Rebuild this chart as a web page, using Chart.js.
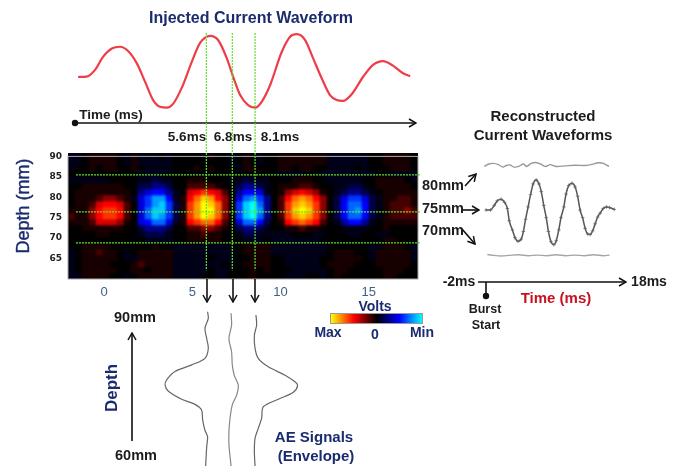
<!DOCTYPE html>
<html lang="en">
<head>
    <meta charset="UTF-8">
    <title>Injected Current Waveform</title>
    <script src="https://cdn.jsdelivr.net/npm/chart.js"></script>
    <style>
        html, body { margin: 0; background: #fff; }
        #stage { position: relative; width: 677px; height: 466px; overflow: hidden; filter: blur(0.4px); font-family: "Liberation Sans", Arial, sans-serif; font-weight: bold; }
        #stage canvas, #stage svg { position: absolute; }
        #heatBox { position: absolute; left: 68px; top: 153px; width: 350px; height: 126px; overflow: hidden; background: #000; }
        #heat { left: 0; top: 0; filter: blur(1px); }
        .t { position: absolute; white-space: nowrap; transform: translate(-50%, -50%); }
        .navy { color: #1b2c6e; }
        .dark { color: #1c1c1c; }
        #colorbar { position: absolute; left: 330px; top: 313px; width: 91px; height: 9px; border: 1px solid #999;
            background: linear-gradient(to right, #ff0, #f00 25%, #000 50%, #00f 75%, #0ff); }
    </style>
</head>
<body>
<div id="stage">
    <canvas id="injected" width="350" height="90" style="left:70px;top:25px"></canvas>
    <div id="heatBox"><canvas id="heat" width="350" height="126"></canvas></div>
    <canvas id="heatAxes" width="440" height="170" style="left:0;top:145px"></canvas>
    <canvas id="recon" width="160" height="120" style="left:470px;top:150px"></canvas>
    <canvas id="envelope" width="150" height="161" style="left:155px;top:305px"></canvas>

    <svg width="677" height="466" style="left:0;top:0">
        <defs>
            <marker id="head" markerWidth="9" markerHeight="10" refX="8" refY="5" orient="auto" markerUnits="userSpaceOnUse">
                <path d="M1 1 L8 5 L1 9" fill="none" stroke="#111" stroke-width="1.5"/>
            </marker>
        </defs>
        <g stroke="#111" stroke-width="1.6" fill="none">
            <line x1="75" y1="123" x2="416" y2="123" marker-end="url(#head)"/>
            <line x1="207" y1="279" x2="207" y2="302" marker-end="url(#head)"/>
            <line x1="233" y1="279" x2="233" y2="302" marker-end="url(#head)"/>
            <line x1="255" y1="279" x2="255" y2="302" marker-end="url(#head)"/>
            <line x1="465" y1="186" x2="476" y2="174" marker-end="url(#head)"/>
            <line x1="463" y1="210" x2="479" y2="210" marker-end="url(#head)"/>
            <line x1="462" y1="229" x2="475" y2="244" marker-end="url(#head)"/>
            <line x1="478" y1="282" x2="626" y2="282" marker-end="url(#head)"/>
            <line x1="486" y1="282" x2="486" y2="296"/>
            <line x1="132" y1="441" x2="132" y2="333" marker-end="url(#head)"/>
        </g>
        <circle cx="75" cy="123" r="3.2" fill="#111"/>
        <circle cx="486" cy="296" r="3.2" fill="#111"/>
    </svg>

    <div id="colorbar"></div>

    <span class="t navy" style="left:251px;top:18px;font-size:16px">Injected Current Waveform</span>
    <span class="t dark" style="left:111px;top:114px;font-size:13.5px">Time (ms)</span>
    <span class="t dark" style="left:187px;top:136px;font-size:13.5px">5.6ms</span>
    <span class="t dark" style="left:233px;top:136px;font-size:13.5px">6.8ms</span>
    <span class="t dark" style="left:280px;top:136px;font-size:13.5px">8.1ms</span>
    <span class="t navy" style="left:23px;top:206px;font-size:18px;font-weight:normal;-webkit-text-stroke:0.4px #1b2c6e;transform:translate(-50%,-50%) rotate(-90deg)">Depth (mm)</span>

    <span class="t dark" style="left:543px;top:115px;font-size:15px">Reconstructed</span>
    <span class="t dark" style="left:543px;top:134px;font-size:15px">Current Waveforms</span>
    <span class="t dark" style="left:443px;top:185px;font-size:14.5px">80mm</span>
    <span class="t dark" style="left:443px;top:208px;font-size:14.5px">75mm</span>
    <span class="t dark" style="left:443px;top:230px;font-size:14.5px">70mm</span>
    <span class="t dark" style="left:459px;top:281px;font-size:14px">-2ms</span>
    <span class="t dark" style="left:649px;top:281px;font-size:14px">18ms</span>
    <span class="t" style="left:556px;top:297px;font-size:15px;color:#c5121f">Time (ms)</span>
    <span class="t dark" style="left:485px;top:309px;font-size:12.5px">Burst</span>
    <span class="t dark" style="left:486px;top:325px;font-size:12.5px">Start</span>

    <span class="t dark" style="left:135px;top:317px;font-size:14.5px">90mm</span>
    <span class="t dark" style="left:136px;top:455px;font-size:14.5px">60mm</span>
    <span class="t navy" style="left:112px;top:388px;font-size:17px;transform:translate(-50%,-50%) rotate(-90deg)">Depth</span>
    <span class="t navy" style="left:314px;top:436px;font-size:15px">AE Signals</span>
    <span class="t navy" style="left:316px;top:455px;font-size:15px">(Envelope)</span>

    <span class="t navy" style="left:375px;top:306px;font-size:14px">Volts</span>
    <span class="t navy" style="left:328px;top:332px;font-size:14px">Max</span>
    <span class="t navy" style="left:375px;top:334px;font-size:14px">0</span>
    <span class="t navy" style="left:422px;top:332px;font-size:14px">Min</span>

    <canvas id="guides" width="677" height="466" style="left:0;top:0"></canvas>
</div>

<script>
    // injected current, time in ms, amplitude normalised to the biggest peak
    const injectedTimes = [-1.47,-0.98,-0.51,-0.06,0.44,0.91,1.36,1.85,2.32,2.78,3.17,3.55,3.91,4.40,4.97,5.44,6.01,6.46,6.95,7.31,7.71,8.16,8.56,8.93,9.41,10.07,10.54,10.92,11.39,11.84,12.33,12.80,13.18,13.54,14.03,14.67,15.24,15.81,16.37,16.94,17.34];
    const injectedAmps = [0,0.01,0.17,0.48,0.68,0.72,0.62,0.33,-0.11,-0.55,-0.71,-0.73,-0.64,-0.26,0.36,0.81,0.98,0.88,0.45,0.01,-0.43,-0.67,-0.73,-0.59,-0.19,0.60,0.96,1.02,0.88,0.45,-0.03,-0.43,-0.55,-0.57,-0.41,0,0.29,0.38,0.27,0.09,0.02];

    // reconstructed waveforms at the three depths
    const recon75Times = [-1.46,-0.83,-0.30,0.15,0.69,1.18,1.58,1.85,2.30,2.66,3.10,3.55,3.87,4.18,4.54,4.89,5.25,5.70,6.10,6.42,6.77,7.13,7.44,7.80,8.21,8.56,8.92,9.23,9.64,9.95,10.35,10.80,11.25,11.61,11.96,12.32,12.68,13.04,13.40,13.75,14.11,14.47,14.83,15.27,15.72,16.17,16.84];
    const recon75Amps = [0,0,0.15,0.30,0.35,0.25,0.05,-0.35,-0.65,-0.90,-1.02,-0.95,-0.70,-0.30,0.10,0.50,0.85,0.98,0.85,0.60,0.15,-0.25,-0.70,-1.03,-1.13,-1.00,-0.65,-0.25,0.10,0.52,0.80,0.87,0.75,0.45,0,-0.25,-0.60,-0.78,-0.80,-0.68,-0.45,-0.23,-0.10,0.05,0.10,0.08,0.02];
    const recon80Times = [-1.73,-1.06,-0.39,0.29,0.96,1.40,1.94,2.52,3.19,3.87,4.31,4.98,5.65,6.33,7.00,7.67,8.56,9.90,11.25,12.59,13.49,14.60,15.27,16.08];
    const recon80Amps = [1.42,1.50,1.52,1.48,1.40,1.45,1.47,1.40,1.42,1.50,1.42,1.52,1.55,1.50,1.42,1.48,1.42,1.44,1.46,1.45,1.48,1.54,1.52,1.42];
    const recon70Times = [-1.28,-0.39,0.73,1.85,3.19,4.54,5.88,7.22,8.56,9.91,11.25,12.59,13.93,15.27,16.17];
    const recon70Amps = [-1.45,-1.48,-1.50,-1.48,-1.46,-1.49,-1.47,-1.49,-1.46,-1.49,-1.47,-1.49,-1.46,-1.49,-1.47];

    // AE envelopes: horizontal position (ms) against depth (mm)
    const envLeftX = [5.87,5.91,5.72,5.82,5.91,5.72,4.97,4.02,3.55,3.46,3.65,4.40,5.16,5.53,5.59,5.72,5.87,5.82,5.76];
    const envLeftDepth = [90.9,89.5,87.4,85.2,83.1,81.0,79.6,78.2,76.4,75.3,74.0,72.3,71.2,70.0,67.9,65.7,64.3,62.2,58.1];
    const envMidX = [7.20,7.23,7.08,7.23,7.27,7.38,7.61,7.52,7.27,7.14,7.08,7.08,7.20];
    const envMidDepth = [90.6,88.1,85.2,82.4,79.6,77.4,75.3,73.2,71.1,68.2,65.4,62.6,58.1];
    const envRightX = [8.61,8.65,8.52,8.56,8.74,9.31,10.26,10.82,10.97,10.73,9.88,9.03,8.93,8.74,8.56,8.52,8.56];
    const envRightDepth = [90.2,88.1,85.9,83.1,81.0,79.2,77.4,76.0,75.2,73.8,72.3,70.7,68.2,66.1,64.0,61.1,58.1];

    // green guide lines
    const guideTimes = [5.80, 7.27, 8.56];
    const guideDepths = [84.8, 76.0, 68.6];

    const timeTicks = [0, 5, 10, 15];
    const depthTicks = [90, 85, 80, 75, 70, 65];

    // acoustoelectric image, one row per depth from 90 mm down, -10 (min) to 10 (max)
    const heatValues = [
        [-1,-1,0,1,1,1,1,0,-1,1, -1,-1,-1,0,-1,0,0,0,0,0, 1,0,0,-1,0,1,0,-1,0,0, 1,1,1,1,1,1,1,-1,-1,-1, -1,-1,-1,0,0,1,1,1,1,0],
        [-1,-1,0,1,1,1,1,0,-1,1, -1,-1,-1,-1,-1,0,0,0,0,0, 0,0,0,-1,0,1,0,-1,0,0, 1,1,1,1,1,1,1,-1,-1,-1, -1,-1,-1,0,0,1,1,1,1,0],
        [-1,0,0,1,0,1,1,0,0,1, 0,-1,-1,-1,-1,0,0,0,1,0, 1,0,0,0,-1,1,1,0,0,0, 1,1,0,1,1,0,0,-1,-1,-1, -1,0,-1,0,0,0,1,1,1,0],
        [0,0,0,0,0,0,0,0,0,0, -1,-1,-1,-1,0,0,0,0,0,0, 0,0,0,0,0,0,0,0,0,0, -1,-1,-1,-1,0,0,-1,-1,-1,-1, -1,-1,-1,-1,0,0,-1,-1,-1,-1],
        [-1,-1,-1,-1,-1,-1,0,0,0,0, -1,-1,-2,-1,-1,0,0,1,1,1, 0,0,0,-1,-1,-2,-1,-1,-1,0, 0,0,1,1,1,0,0,-1,-1,-1, -1,-1,0,0,1,1,1,1,0,-1],
        [0,0,1,1,1,1,1,1,0,0, -2,-2,-3,-3,-2,0,0,2,2,2, 2,1,0,0,-2,-3,-3,-2,-1,0, 1,1,1,2,2,1,0,0,-1,-1, -2,-2,-1,0,1,1,1,1,1,0],
        [0,1,1,1,1,1,1,1,1,0, -3,-4,-5,-5,-3,-1,0,4,5,6, 5,4,2,0,-3,-5,-5,-4,-1,0, 1,3,4,5,4,3,1,0,-1,-2, -3,-3,-2,-1,0,1,1,1,1,1],
        [0,1,1,1,2,3,3,2,1,-1, -4,-6,-8,-8,-5,-1,1,5,7,9, 8,5,3,0,-4,-7,-8,-6,-3,0, 2,5,7,8,7,5,3,0,-2,-4, -6,-6,-4,-2,-1,1,1,2,2,1],
        [0,1,1,2,4,5,5,4,2,0, -4,-6,-8,-9,-6,-2,1,6,8,10, 9,7,3,0,-6,-9,-10,-7,-3,0, 2,6,8,9,8,6,3,0,-2,-5, -7,-7,-5,-2,-1,1,2,2,2,1],
        [1,1,1,3,5,6,6,5,2,0, -4,-7,-9,-9,-6,-2,1,6,8,10, 10,7,3,0,-6,-9,-10,-8,-3,0, 2,6,9,10,9,6,3,0,-2,-5, -7,-8,-5,-2,-1,1,2,2,3,2],
        [2,1,1,3,5,6,6,5,2,0, -4,-7,-9,-8,-6,-2,1,6,8,10, 9,7,3,0,-6,-9,-10,-7,-3,0, 2,6,8,9,8,6,3,0,-2,-5, -7,-7,-5,-2,-1,1,2,2,2,2],
        [1,1,1,2,4,4,4,3,1,0, -4,-5,-7,-7,-4,-1,1,5,6,7, 7,5,2,0,-4,-7,-7,-5,-2,0, 1,5,6,7,6,5,2,0,-1,-3, -5,-5,-3,-1,0,1,1,1,1,1],
        [0,0,1,1,1,1,1,1,0,0, -2,-3,-3,-3,-2,0,0,2,2,3, 3,2,1,0,-2,-3,-3,-2,-1,0, 0,1,1,2,1,1,0,0,0,-1, -1,-1,-1,0,0,1,0,0,0,0],
        [0,0,0,0,1,1,0,0,0,0, -1,-2,-2,-2,-1,0,0,1,1,2, 1,1,0,0,-1,-2,-2,-1,-1,-1, -1,-1,0,0,0,-1,-1,0,0,0, -1,-1,0,0,-1,-1,0,0,0,0],
        [0,0,0,0,0,0,0,0,0,0, 0,-1,-1,-1,-1,0,0,1,1,1, 1,1,0,0,0,-1,-1,-1,0,-1, -1,-1,-1,-1,-1,-1,0,0,0,0, 0,0,0,0,0,1,1,0,0,0],
        [0,0,1,1,1,1,0,0,0,0, 0,0,1,0,0,-1,-1,-1,-1,-1, -1,-1,-1,0,0,1,1,1,1,-1, -1,-1,-1,-1,-1,-1,-1,0,0,0, 0,0,0,-1,-1,1,1,1,0,-1],
        [-1,0,1,1,2,1,1,0,-1,0, 1,1,1,1,1,-1,-1,-1,-1,-1, -1,-1,-1,-1,0,1,1,1,1,-1, -1,-1,-1,-1,-1,-1,-1,0,1,1, 1,0,0,-1,1,1,1,1,1,-1],
        [-1,0,1,1,1,1,1,0,-1,-1, 1,1,1,1,1,-1,-1,-1,-1,-1, 0,-1,-1,-1,0,0,1,1,1,0, 0,-1,-1,-1,-1,-1,0,0,1,1, 1,1,0,-1,1,1,1,1,1,-1],
        [-1,0,1,1,1,1,0,0,0,1, 2,1,1,1,1,-1,-1,-1,-1,-1, -1,-1,0,-1,0,1,1,1,1,0, 0,-1,-1,-1,-1,-1,0,1,1,1, 1,0,0,0,1,1,1,1,1,0],
        [-1,0,1,1,1,1,1,0,0,1, 1,0,1,1,1,-1,-1,-1,-1,-1, 0,-1,-1,0,0,0,1,0,1,0, 0,0,-1,-1,-1,-1,-1,0,1,1, 0,0,0,0,0,1,1,1,0,0],
        [-1,-1,1,1,1,1,0,0,-1,0, 1,1,1,1,1,-1,-1,-1,-1,0, 0,-1,-1,0,0,0,1,0,0,0, 0,-1,-1,-1,0,0,-1,0,1,0, 0,0,0,0,0,1,1,0,0,0]
    ];

    // brightness of red / blue for image values 0 to 5, above that green is added
    const heatShades = [0, 24, 70, 140, 215, 255];

    Chart.defaults.animation = false;
    Chart.defaults.events = [];
    Chart.defaults.responsive = false;
    Chart.defaults.plugins.legend.display = false;
    Chart.defaults.plugins.tooltip.enabled = false;
    Chart.defaults.font.family = '"Liberation Sans", Arial, sans-serif';

    function xy(xs, ys) {
        return xs.map((x, i) => ({ x: x, y: ys[i] }));
    }

    function hiddenAxis(min, max) {
        return { type: 'linear', display: false, min: min, max: max };
    }

    // yellow - red - black - blue - cyan
    function heatColor(v) {
        const a = Math.abs(v);
        const main = heatShades[Math.min(a, 5)];
        const extra = Math.round(255 * Math.max(0, a - 5) / 5);
        return v >= 0 ? `rgb(${main},${extra},0)` : `rgb(0,${extra},${main})`;
    }

    new Chart(document.getElementById('injected'), {
        type: 'scatter',
        data: {
            datasets: [{
                data: xy(injectedTimes, injectedAmps),
                showLine: true,
                borderColor: '#ee3d48',
                borderWidth: 2.2,
                cubicInterpolationMode: 'monotone',
                pointRadius: 0
            }]
        },
        options: {
            scales: { x: hiddenAxis(-1.93, 17.9), y: hiddenAxis(-0.905, 1.238) }
        }
    });

    const rowHeight = 30 / heatValues.length;
    new Chart(document.getElementById('heat'), {
        type: 'bar',
        data: {
            labels: heatValues[0].map((v, i) => i),
            datasets: heatValues.map((row, r) => ({
                data: row.map(() => [90 - (r + 1) * rowHeight, 90 - r * rowHeight]),
                backgroundColor: row.map(heatColor),
                grouped: false,
                barPercentage: 1,
                categoryPercentage: 1,
                borderWidth: 0
            }))
        },
        options: {
            scales: { x: { display: false }, y: hiddenAxis(60, 90) }
        }
    });

    // axes and frame sit in their own canvas so the blur of the image does not touch them
    const frame = {
        id: 'frame',
        afterDraw(chart) {
            const a = chart.chartArea;
            chart.ctx.strokeStyle = '#aaa';
            chart.ctx.lineWidth = 1;
            chart.ctx.strokeRect(a.left, a.top, a.right - a.left, a.bottom - a.top);
        }
    };
    new Chart(document.getElementById('heatAxes'), {
        type: 'scatter',
        data: { datasets: [] },
        options: {
            layout: { padding: { top: 8, right: 22 } },
            scales: {
                x: {
                    type: 'linear',
                    min: -2.04,
                    max: 17.79,
                    afterBuildTicks: s => { s.ticks = timeTicks.map(v => ({ value: v })); },
                    afterFit: s => { s.height = 36; },
                    grid: { display: false, drawTicks: false },
                    border: { display: false },
                    ticks: { color: '#3f5f86', font: { size: 13 }, padding: 6, maxRotation: 0 }
                },
                y: {
                    type: 'linear',
                    min: 60,
                    max: 90,
                    afterBuildTicks: s => { s.ticks = depthTicks.map(v => ({ value: v })); },
                    afterFit: s => { s.width = 68; },
                    grid: { display: false, drawTicks: false },
                    border: { display: false },
                    ticks: { color: '#222', padding: 6, font: { family: '"DejaVu Sans"', size: 9, weight: 'bold' } }
                }
            }
        },
        plugins: [frame]
    });

    new Chart(document.getElementById('recon'), {
        type: 'scatter',
        data: {
            datasets: [
                { data: xy(recon80Times, recon80Amps), showLine: true, borderColor: '#999', borderWidth: 1.4, tension: 0.3, pointRadius: 0 },
                { data: xy(recon70Times, recon70Amps), showLine: true, borderColor: '#a5a5a5', borderWidth: 1.4, tension: 0.3, pointRadius: 0 },
                {
                    data: xy(recon75Times, recon75Amps),
                    showLine: true,
                    borderColor: '#555',
                    borderWidth: 1.5,
                    cubicInterpolationMode: 'monotone',
                    pointStyle: 'cross',
                    pointRadius: 1.8,
                    pointBorderColor: '#666',
                    pointBorderWidth: 0.8
                }
            ]
        },
        options: {
            scales: { x: hiddenAxis(-3.07, 18.4), y: hiddenAxis(-1.8, 1.8) }
        }
    });

    new Chart(document.getElementById('envelope'), {
        type: 'scatter',
        data: {
            datasets: [
                xy(envLeftX, envLeftDepth),
                xy(envMidX, envMidDepth),
                xy(envRightX, envRightDepth)
            ].map((points, i) => ({
                data: points,
                showLine: true,
                borderColor: i === 1 ? '#888' : '#666',
                borderWidth: 1.2,
                tension: 0.3,
                pointRadius: 0
            }))
        },
        options: {
            scales: { x: hiddenAxis(2.89, 11.39), y: hiddenAxis(58.09, 92.34) }
        }
    });

    // whole page overlay, same ms and mm scales as the image so the guides cross all panels
    const guideStyle = {
        showLine: true,
        borderColor: 'rgb(96,224,48)',
        borderWidth: 1.2,
        borderDash: [2, 1],
        pointRadius: 0
    };
    new Chart(document.getElementById('guides'), {
        type: 'scatter',
        data: {
            datasets: [
                ...guideTimes.map(t => ({ ...guideStyle, data: [{ x: t, y: 118.6 }, { x: t, y: 62.1 }] })),
                ...guideDepths.map(d => ({ ...guideStyle, data: [{ x: -1.59, y: d }, { x: 17.96, y: d }] }))
            ]
        },
        options: {
            scales: { x: hiddenAxis(-5.892, 32.465), y: hiddenAxis(15.48, 126.43) }
        }
    });
</script>
</body>
</html>
